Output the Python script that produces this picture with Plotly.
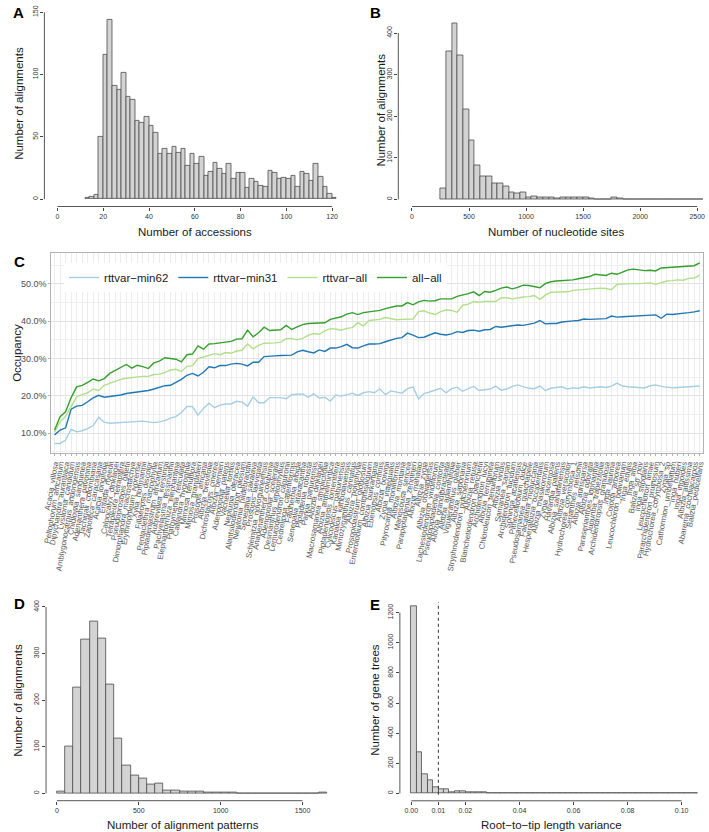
import numpy as np
import plotly.graph_objects as go

W, H = 709, 832
FONT = "Liberation Sans, Arial, sans-serif"

# --- A: number of accessions per alignment (bins of 2, starting at 12)
acc_bin_start, acc_bin_width = 12, 2
acc_counts = [1, 2, 3, 50, 116, 144, 91, 88, 101, 82, 80, 63, 61, 66, 59, 53, 36, 40, 36, 42,
              37, 40, 27, 36, 28, 34, 19, 22, 29, 24, 20, 28, 16, 21, 21, 9, 16, 14, 11, 10,
              23, 21, 16, 17, 16, 19, 10, 22, 20, 15, 28, 18, 10, 4, 1]
acc_xticks = [0, 20, 40, 60, 80, 100, 120]
acc_yticks = [0, 50, 100, 150]

# --- B: number of nucleotide sites (bins of 50, starting at 250)
sites_bin_start, sites_bin_width = 250, 50
sites_counts = [26, 355, 423, 347, 217, 141, 81, 55, 55, 39, 39, 31, 18, 14, 18, 6, 8, 6, 6, 4,
                2, 5, 6, 5, 5, 6, 2, 1, 1, 1, 4, 2, 1, 0, 0, 0, 0, 0, 0, 0,
                0, 0, 0, 0, 1, 1]
sites_xticks = [0, 500, 1000, 1500, 2000, 2500]
sites_yticks = [0, 100, 200, 300, 400]

# --- C: occupancy per accession
species = [
    "Acacia_villosa", "Peltophorum_africanum", "Dipychandra_aurantiaca", "Lysiloma_candidum",
    "Amblygonocarpus_andongensis", "Chidlowia_sanguinea", "Adenanthera_pavonina", "Tachigali_colombiana",
    "Zapoteca_caracasana", "Acacia_longifolia", "Entada_rheedii", "Calpocalyx_dinklagei",
    "Tetrapleura_tetraptera", "Pseudoprosopis_gilletii", "Dimorphandra_macrostachya", "Erythrophleum_ivorense",
    "Xylia_hoffmannii", "Fillaeopsis_discolor", "Pentaclethra_macrophylla", "Piptadeniastrum_africanum",
    "Aubrevillea_kerstingii", "Pachyelasma_tessmannii", "Elephantorrhiza_elephantina", "Plathymenia_reticulata",
    "Calliandra_hygrophila", "Mimosa_tenuiflora", "Mimosa_grandidieri", "Prosopis_africana",
    "Albizia_brevifolia", "Dichrostachys_cinerea", "Albizia_bernieri", "Adenopodia_patens",
    "Vachellia_tortilis", "Neptunia_oleracea", "Alantsilodendron_pilosum", "Newtonia_hildebrandtii",
    "Senegalia_sakalava", "Prosopis_laevigata", "Schleinitzia_novoguineensis", "Anadenanthera_colubrina",
    "Adenopodia_scelerata", "Desmanthus_leptophyllus", "Lemurodendron_capuronii", "Cedrelinga_cateniformis",
    "Faidherbia_albida", "Senegalia_ataxacantha", "Piptadenia_robusta", "Parkia_panurensis",
    "Albizia_dinklagei", "Macrosamanea_simplicifolia", "Albizia_anthelmintica", "Piptadeniopsis_lomentifera",
    "Cylicodiscus_gabunensis", "Kanaloa_kahoolawensis", "Mimozyganthus_carinatus", "Albizia_polyphylla",
    "Prosopidastrum_globosum", "Enterolobium_contortisiliquum", "Albizia_burkartiana", "Ebenopsis_confinis",
    "Albizia_boivinii", "Zygia_inaequalis", "Pityrocarpa_moniliformis", "Albizia_montana",
    "Mariosousa_sericea", "Parapiptadenia_zehntneri", "Albizia_mahalao", "Albizia_zygia",
    "Albizia_obbiadensis", "Lachesiodendron_viridiflorum", "Pseudopiptadenia_contorta", "Albizia_grandibracteata",
    "Albizia_adianthifolia", "Viguieranthus_glaber", "Albizia_saponaria", "Stryphnodendron_pulcherrimum",
    "Albizia_retusa", "Blanchetiodendron_blanchetii", "Archidendron_lucyi", "Albizia_ferruginea",
    "Chloroleucon_tenuiflorum", "Albizia_viridis", "Samanea_saman", "Archidendron_lucidum",
    "Sphinga_acatlensis", "Pithecellobium_dulce", "Pseudosamanea_guachapele", "Falcataria_moluccana",
    "Hesperalbizia_occidentalis", "Albizia_masikororum", "Zygia_racemosa", "Havardia_pallens",
    "Albizia_sahafariensis", "Albizia_versicolor", "Hydrochorea_corymbosa_1", "Serianthes_nelsonii",
    "Albizia_aurisparsa", "Albizia_odorata", "Paraserianthes_lophantha", "Jupunba_trapezifolia",
    "Archidendropsis_granulosa", "Inga_laurina", "Cojoba_arborea", "Leucochloron_bolivianum",
    "Inga_edulis", "Inga_alba", "Balizia_sp_nov", "Inga_stipularis",
    "Leucochloron_limae", "Pararchidendron_pruinosum", "Hydrochorea_corymbosa_2", "Zygia_sp",
    "Cathormion_umbellatum", "Inga_huberi", "Inga_ingoides", "Albizia_altissima",
    "Abarema_cochliacarpos", "Balizia_pedicellaris",
]

# occupancy in percent
occ_min62 = [7.2, 7.2, 8.1, 11.0, 10.3, 10.6, 11.2, 12.0, 14.2, 12.9,
             12.6, 12.7, 12.8, 12.9, 13.0, 13.1, 13.2, 13.0, 12.8, 13.0,
             13.3, 14.0, 14.4, 15.5, 17.1, 17.1, 14.8, 16.6, 18.0, 16.8,
             17.5, 17.8, 17.8, 18.5, 18.3, 17.2, 19.7, 18.1, 18.1, 19.5,
             19.5, 19.5, 19.2, 20.3, 20.4, 20.5, 19.6, 20.5, 19.4, 19.6,
             18.6, 20.2, 19.9, 20.2, 20.7, 20.1, 20.8, 21.1, 20.8, 21.8,
             20.3, 21.3, 21.0, 20.7, 21.9, 22.4, 19.1, 20.6, 21.0, 21.4,
             22.0, 20.8, 21.9, 22.3, 21.2, 21.9, 22.5, 21.4, 21.6, 21.8,
             22.6, 21.5, 21.8, 22.5, 22.9, 22.4, 22.0, 21.9, 22.6, 21.4,
             22.0, 22.2, 22.4, 21.8, 22.1, 22.0, 22.4, 22.1, 22.3, 22.4,
             22.2, 22.6, 23.4, 22.6, 22.4, 22.3, 22.0, 22.1, 22.7, 22.9,
             22.5, 22.3, 22.1, 22.2, 22.3, 22.5, 22.6, 22.6]
occ_min31 = [9.5, 10.8, 11.4, 16.4, 17.2, 17.4, 18.4, 19.4, 20.1, 19.6,
             19.8, 20.0, 20.2, 20.6, 20.8, 21.0, 21.1, 21.4, 21.8, 22.3,
             22.7, 22.8, 23.5, 24.4, 25.5, 26.0, 25.3, 26.3, 27.8, 27.5,
             28.1, 28.1, 28.5, 28.7, 28.5, 28.0, 29.0, 29.0, 30.5, 30.7,
             30.7, 30.8, 30.8, 30.9, 31.8, 32.2, 31.8, 31.5, 32.3, 31.9,
             32.8, 32.8, 33.2, 33.8, 32.9, 32.8, 33.4, 33.9, 33.9, 34.0,
             34.5, 35.0, 35.4, 35.6, 36.8, 36.3, 35.6, 35.7, 36.4, 36.9,
             36.5, 36.3, 36.6, 37.2, 37.0, 37.5, 37.6, 37.3, 37.7, 37.8,
             38.6, 38.4, 38.6, 38.8, 39.0, 38.9, 39.3, 39.5, 40.2, 39.3,
             39.4, 39.4, 39.8, 40.0, 40.1, 40.2, 40.6, 40.5, 40.6, 40.6,
             40.7, 41.4, 41.1, 41.2, 41.3, 41.4, 41.5, 41.6, 41.7, 41.7,
             40.8, 41.9, 41.8, 41.9, 42.1, 42.3, 42.5, 42.8]
occ_rtt_all = [10.2, 13.0, 14.5, 17.0, 19.7, 20.3, 20.8, 21.8, 21.4, 22.8,
               23.4, 23.9, 24.4, 24.7, 24.9, 25.1, 25.2, 25.2, 25.7, 25.8,
               26.2, 26.9, 27.1, 26.5, 27.9, 28.1, 30.0, 30.4, 30.9, 31.3,
               31.0, 31.6, 31.4, 32.0, 32.2, 33.9, 32.6, 33.5, 34.1, 34.1,
               34.2, 34.4, 35.3, 35.4, 35.0, 35.4, 36.2, 36.7, 36.5, 37.4,
               38.0, 37.9, 37.6, 38.1, 38.3, 39.6, 38.7, 40.2, 40.3, 40.5,
               41.0, 40.6, 40.4, 40.5, 40.6, 40.6, 42.6, 42.8, 42.2, 41.8,
               42.6, 43.0, 42.9, 42.4, 44.3, 44.6, 45.3, 45.1, 45.3, 45.4,
               45.3, 46.3, 46.3, 46.0, 46.3, 46.5, 46.6, 46.9, 45.9, 47.0,
               47.8, 47.8, 47.7, 47.9, 48.3, 48.4, 48.6, 48.8, 48.9, 48.9,
               48.8, 48.5, 49.9, 50.0, 50.0, 50.1, 50.1, 50.2, 50.3, 49.9,
               50.4, 50.8, 50.9, 51.1, 51.0, 51.5, 51.6, 52.4]
occ_all_all = [10.8, 14.4, 15.7, 19.5, 22.4, 22.8, 23.6, 24.5, 24.0, 24.6,
               26.0, 26.8, 27.8, 28.4, 27.4, 28.2, 27.8, 27.3, 28.8, 29.3,
               30.2, 30.1, 29.8, 29.1, 31.0, 31.2, 33.4, 32.5, 33.9, 34.0,
               34.2, 34.2, 34.6, 35.2, 35.3, 37.6, 35.8, 36.9, 38.4, 37.5,
               37.5, 37.7, 38.9, 37.8, 38.5, 39.1, 39.4, 39.4, 39.5, 39.6,
               40.5, 40.8, 41.2, 41.9, 42.3, 41.8, 42.3, 42.5, 42.7, 42.9,
               43.4, 43.8, 44.1, 44.1, 45.0, 44.4, 45.2, 45.6, 45.4, 45.5,
               46.0, 46.0, 46.0, 46.7, 47.0, 47.4, 47.9, 46.9, 48.0, 47.8,
               48.3, 48.9, 49.2, 48.7, 49.1, 49.7, 49.6, 49.4, 49.0, 50.1,
               50.6, 50.8, 50.9, 50.8, 51.1, 51.4, 51.7, 52.0, 52.6, 52.4,
               52.3, 52.9, 52.6, 53.2, 53.8, 54.0, 53.8, 53.6, 53.7, 53.5,
               54.3, 54.4, 54.3, 54.5, 54.6, 54.6, 54.9, 55.7]
occ_names = ["rttvar\u2212min62", "rttvar\u2212min31", "rttvar\u2212all", "all\u2212all"]
occ_colors = ["#a6cee3", "#1f78b4", "#b2df8a", "#33a02c"]
occ_yticks = [0.1, 0.2, 0.3, 0.4, 0.5]
occ_yminor = [0.05, 0.15, 0.25, 0.35, 0.45, 0.55]

# --- D: number of alignment patterns (bins of 50)
pat_bin_start, pat_bin_width = 0, 50
pat_counts = [4, 101, 227, 330, 368, 332, 233, 118, 60, 38, 31, 19, 21, 5, 6, 4, 4, 3, 2, 1,
              1, 1, 0, 0, 0, 0, 0, 0, 0, 0, 0, 0, 1]
pat_xticks = [0, 500, 1000, 1500]
pat_yticks = [0, 100, 200, 300, 400]

# --- E: root-to-tip length variance (bins of 0.002)
var_bin_start, var_bin_width = 0, 0.002
var_counts = [1240, 270, 128, 86, 44, 30, 25, 8, 14, 14, 5, 7, 7, 6, 4, 2, 2, 2, 2, 1,
              1, 4, 1, 1, 1, 0, 0, 0, 0, 0, 0, 0, 0, 0, 1, 0, 0, 0, 1, 0,
              0, 0, 0, 0, 0, 0, 0, 0, 0, 0, 0, 0, 1]
var_xticks = [0, 0.01, 0.02, 0.04, 0.06, 0.08, 0.10]
var_xticktext = ["0.00", "0.01", "0.02", "0.04", "0.06", "0.08", "0.10"]
var_yticks = [0, 200, 400, 600, 800, 1000, 1200]
var_cutoff = 0.01


def px_x(p):
    return p / W


def px_y(p):
    return 1 - p / H


fig = go.Figure()

hist_style = dict(marker=dict(color="#d3d3d3", line=dict(color="#4d4d4d", width=0.8)),
                  showlegend=False, hoverinfo="skip")

panels = [
    ("x", "y", acc_bin_start, acc_bin_width, acc_counts),
    ("x2", "y2", sites_bin_start, sites_bin_width, sites_counts),
    ("x4", "y4", pat_bin_start, pat_bin_width, pat_counts),
    ("x5", "y5", var_bin_start, var_bin_width, var_counts),
]
for xa, ya, start, width, counts in panels:
    centers = start + width * (np.arange(len(counts)) + 0.5)
    fig.add_trace(go.Bar(x=centers, y=counts, width=width, xaxis=xa, yaxis=ya, **hist_style))

# occupancy lines
for name, col, vals in zip(occ_names, occ_colors, [occ_min62, occ_min31, occ_rtt_all, occ_all_all]):
    fig.add_trace(go.Scatter(x=species, y=np.array(vals) / 100, mode="lines", name=name,
                             line=dict(color=col, width=1.4), xaxis="x3", yaxis="y3"))

tickfont = dict(family=FONT, size=7, color="#333333")


def r_xaxis(dom, rng, ticks, anchor, text=None):
    d = dict(domain=dom, range=rng, anchor=anchor, tickmode="array", tickvals=ticks,
             ticks="outside", ticklen=3, tickcolor="#444444", tickwidth=0.8,
             tickfont=tickfont, showgrid=False, zeroline=False, showline=False)
    if text:
        d["ticktext"] = text
    return d


def r_yaxis(dom, rng, ticks, anchor):
    return dict(domain=dom, range=rng, anchor=anchor, tickmode="array", tickvals=ticks,
                ticks="outside", ticklen=3, tickcolor="#444444", tickwidth=0.8, tickangle=-90,
                tickfont=tickfont, showgrid=False, zeroline=False, showline=False)


layout = dict(
    width=W, height=H, margin=dict(l=0, r=0, t=0, b=0),
    paper_bgcolor="white", plot_bgcolor="white", bargap=0,
    font=dict(family=FONT, color="#1a1a1a"),
    xaxis=r_xaxis([px_x(36), px_x(345)], [-5.7, 127], acc_xticks, "y"),
    yaxis=r_yaxis([px_y(206.5), px_y(4.8)], [-6, 156], acc_yticks, "x"),
    xaxis2=r_xaxis([px_x(396), 1.0], [-120, 2577], sites_xticks, "y2"),
    yaxis2=r_yaxis([px_y(206.5), px_y(16.4)], [-17, 440], sites_yticks, "x2"),
    xaxis4=r_xaxis([px_x(37.7), px_x(334.6)], [-66, 1716], pat_xticks, "y4"),
    yaxis4=r_yaxis([px_y(800.7), px_y(599.5)], [-16, 416], pat_yticks, "x4"),
    xaxis5=r_xaxis([px_x(397.6), 1.0], [-0.00424, 0.109], var_xticks, "y5", var_xticktext),
    yaxis5=r_yaxis([px_y(800.8), px_y(599.2)], [-49.6, 1289.6], var_yticks, "x5"),
    xaxis3=dict(domain=[px_x(43), px_x(706)], anchor="y3", type="category",
                categoryorder="array", categoryarray=species,
                range=[-0.6, len(species) - 0.4], tickmode="array", tickvals=species,
                tickangle=-80, tickfont=dict(family=FONT, size=7.8, color="#595959"),
                showgrid=True, gridcolor="#ececec", gridwidth=0.6,
                showline=True, mirror=True, linecolor="#b3b3b3", linewidth=1,
                ticks="outside", ticklen=2, tickcolor="#b3b3b3", zeroline=False),
    yaxis3=dict(domain=[px_y(453), px_y(253)], anchor="x3", range=[0.0463, 0.5832],
                tickmode="array", tickvals=occ_yticks, tickformat=".1%",
                tickfont=dict(family=FONT, size=9, color="#4d4d4d"),
                showgrid=True, gridcolor="#e3e3e3", gridwidth=0.7,
                minor=dict(tickvals=occ_yminor, showgrid=True, gridcolor="#f0f0f0", gridwidth=0.5),
                showline=True, mirror=True, linecolor="#b3b3b3", linewidth=1,
                ticks="outside", ticklen=2, tickcolor="#b3b3b3", zeroline=False),
    legend=dict(orientation="h", x=px_x(56), y=px_y(263), xanchor="left", yanchor="top",
                font=dict(family=FONT, size=11.5, color="#1a1a1a"), bgcolor="white",
                itemwidth=30, tracegroupgap=0),
)
fig.update_layout(**layout)

# R-style axis lines spanning only the tick range
line_style = dict(color="#444444", width=0.9)
shapes = []
for xa, ya, xt, yt in [("x", "y", acc_xticks, acc_yticks), ("x2", "y2", sites_xticks, sites_yticks),
                       ("x4", "y4", pat_xticks, pat_yticks), ("x5", "y5", var_xticks, var_yticks)]:
    shapes.append(dict(type="line", xref=xa, yref=ya + " domain", x0=xt[0], x1=xt[-1], y0=0, y1=0, line=line_style))
    shapes.append(dict(type="line", xref=xa + " domain", yref=ya, x0=0, x1=0, y0=yt[0], y1=yt[-1], line=line_style))
shapes.append(dict(type="line", xref="x5", yref="y5 domain", x0=var_cutoff, x1=var_cutoff, y0=0.03, y1=0.985,
                   line=dict(color="#333333", width=1, dash="dot")))
fig.update_layout(shapes=shapes)

# panel letters and axis titles
ann = []
for letter, x, y in [("A", 2, 2), ("B", 365, 2), ("C", 3, 251), ("D", 3, 593), ("E", 365, 594)]:
    ann.append(dict(text="<b>%s</b>" % letter, x=px_x(x), y=px_y(y), xref="paper", yref="paper",
                    xanchor="left", yanchor="top", showarrow=False, font=dict(size=15, color="black")))
title_font = dict(family=FONT, size=11.5, color="#1a1a1a")
for text, x, y, ang in [
    ("Number of accessions", 189, 232, 0),
    ("Number of nucleotide sites", 556, 232, 0),
    ("Number of alignments", 10, 103, -90),
    ("Number of alignments", 378, 110, -90),
    ("Number of alignment patterns", 177, 825, 0),
    ("Number of alignments", 9, 700, -90),
    ("Root\u2212to\u2212tip length variance", 552, 825, 0),
    ("Number of gene trees", 372, 700, -90),
    ("Occupancy", 8, 353, -90),
]:
    ann.append(dict(text=text, x=px_x(x), y=px_y(y), xref="paper", yref="paper",
                    xanchor="center", yanchor="middle", textangle=ang, showarrow=False,
                    font=title_font))
fig.update_layout(annotations=ann)

# drop the default page margin so the figure sits at the window's top-left corner
fig.write_html("out.html", config={"displayModeBar": False},
               post_script="document.body.style.margin='0';document.body.style.padding='0';"
                           "document.documentElement.style.overflow='hidden';window.scrollTo(0,0);")
